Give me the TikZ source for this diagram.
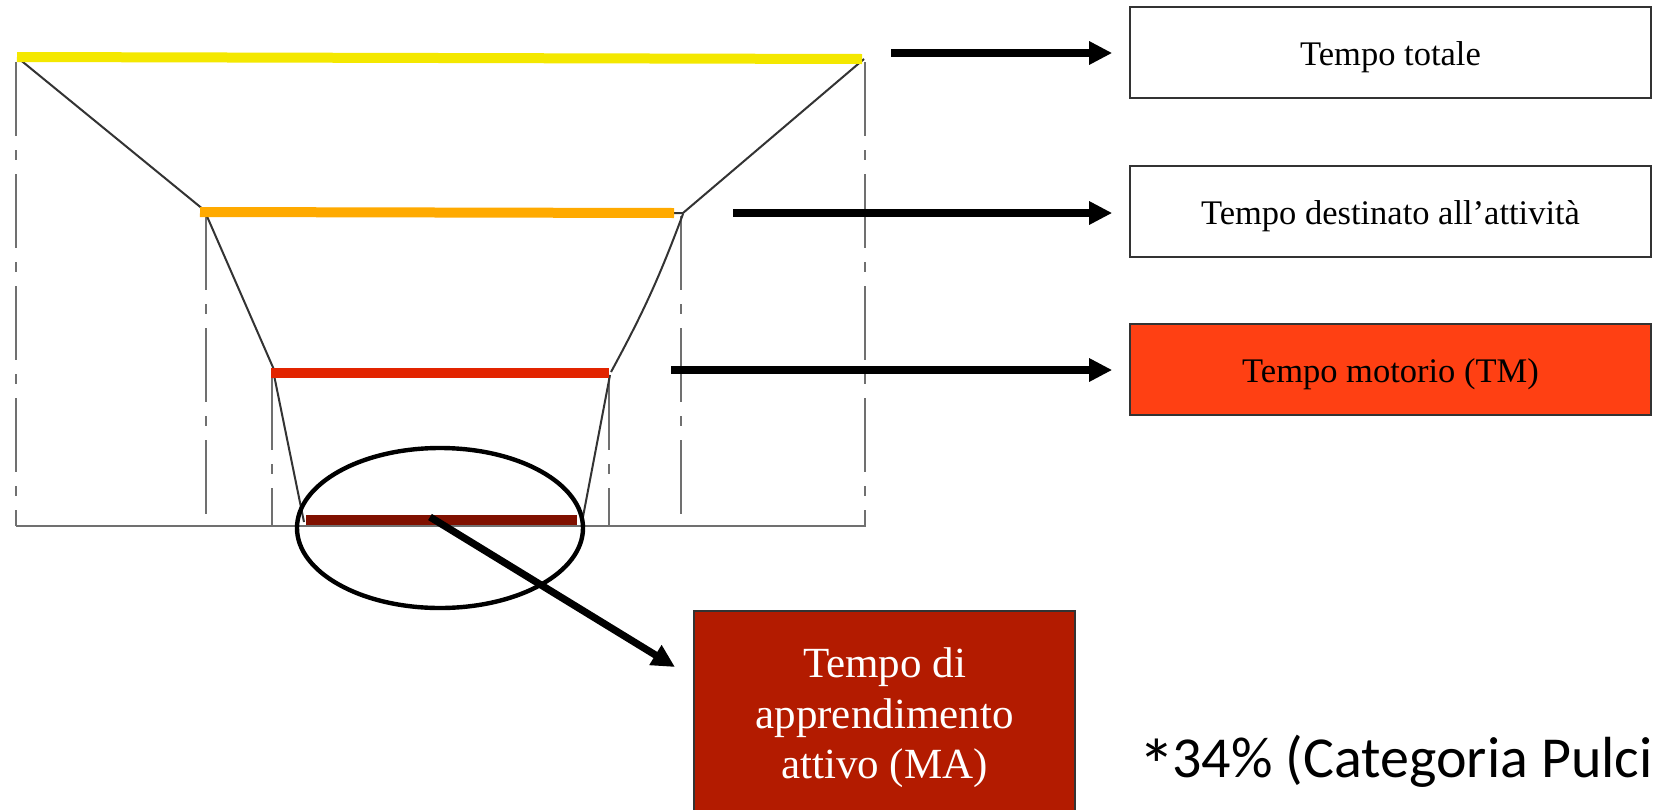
\documentclass[tikz,border=0pt]{standalone}
\usepackage{fontspec}
\setmainfont{Liberation Serif}
\newfontfamily\calibfont{Carlito}
\usetikzlibrary{arrows.meta}
\definecolor{cYellow}{HTML}{F4E800}
\definecolor{cOrange}{HTML}{FFAA00}
\definecolor{cRed}{HTML}{E22400}
\definecolor{cDark}{HTML}{801000}
\definecolor{boxRed}{HTML}{FF4013}
\definecolor{boxDark}{HTML}{B31B00}
\definecolor{pencil}{HTML}{333333}
\definecolor{pencilLight}{HTML}{707070}
\begin{document}
\begin{tikzpicture}[x=0.5pt,y=-0.5pt,
  labelbox/.style={draw=black!80, line width=0.8pt, minimum width=260.5pt, minimum height=45.5pt, inner sep=0pt, text height=16.3pt, text depth=3.8pt, font=\fontsize{17.25}{20}\selectfont},
  bigarrow/.style={line width=3.6pt, -{Triangle[length=11.5pt,width=11pt]}},
  bar/.style={line width=5pt},
  pline/.style={draw=pencil, line width=1pt},
  vline/.style={draw=pencilLight, line width=0.6pt, dash pattern=on 37pt off 7pt on 5pt off 7pt},
]
\useasboundingbox (0,0) rectangle (1654,809);
\fill[white] (0,0) rectangle (1654,809);

% pencil construction lines
\draw[vline] (16,62) -- (16,526);
\draw[vline] (206,216) -- (206,526);
\draw[vline] (272,376) -- (272,526);
\draw[vline] (609,376) -- (609,526);
\draw[vline] (681,216) -- (681,526);
\draw[vline] (865,62) -- (865,526);
\draw[draw=pencilLight, line width=0.8pt] (16,526) -- (866,526);

\draw[pline] (18,58) -- (204,210);
\draw[pline] (864,59) -- (683,213) -- (673,213);
\draw[pline] (206,214) -- (275,372);
\draw[pline] (683,214) to[bend left=4] (611,372);
\draw[pline] (274,375) -- (304,522);
\draw[pline] (610,375) -- (582,522);

% coloured bars
\draw[bar, cYellow] (17,57) -- (862,59);
\draw[bar, cOrange] (200,212) -- (674,213);
\draw[bar, cRed] (271,373) -- (609,373);
\draw[bar, cDark] (306,520) -- (577,520);

% ellipse
\draw[line width=2.2pt] (440,528) ellipse [x radius=143, y radius=80];

% boxes
\node[labelbox] (tt) at (1390.5,52.5) {Tempo totale};
\node[labelbox] (td) at (1390.5,211.5) {Tempo destinato all’attività};
\node[labelbox, fill=boxRed] (tm) at (1390.5,369.5) {Tempo motorio (TM)};
\node[draw=black!80, line width=0.8pt, fill=boxDark, text=white, minimum width=190.5pt, minimum height=107pt, align=center, inner sep=0pt, font=\fontsize{21.5}{25.25}\selectfont] (ma) at (884.5,718) {Tempo di\\apprendimento\\attivo (MA)};

% arrows
\coordinate (a1) at (891,53);
\coordinate (a2) at (733,213);
\coordinate (a3) at (671,370);
\coordinate (a4) at (430,517);
\coordinate (a4e) at (675,667);
\draw[bigarrow, shorten >=8.5pt] (a1) -- (a1 -| tt.west);
\draw[bigarrow, shorten >=8.5pt] (a2) -- (a2 -| td.west);
\draw[bigarrow, shorten >=8.5pt] (a3) -- (a3 -| tm.west);
\draw[bigarrow] (a4) -- (a4e);

% note
\node[anchor=base west, inner sep=0pt, font=\calibfont\fontsize{29}{34}\selectfont] (note) at (1142,777) {\makebox[15pt][c]{\raisebox{-7pt}{\fontsize{37}{37}\selectfont *}}34\% (Categoria Pulci};
\end{tikzpicture}
\end{document}
